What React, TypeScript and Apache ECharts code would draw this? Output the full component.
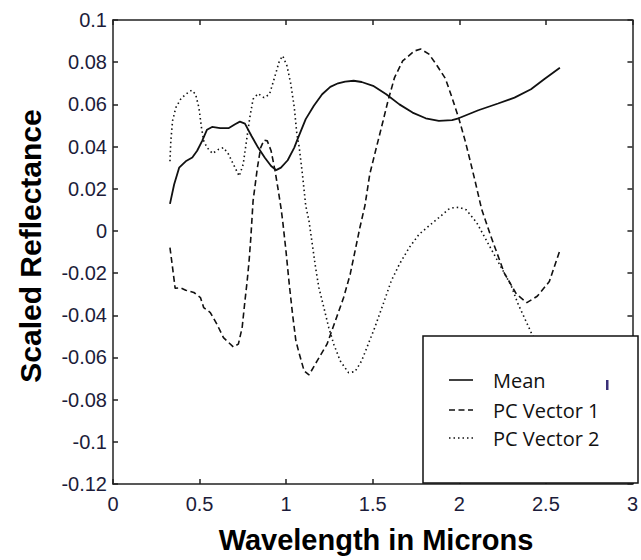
import React, { useEffect, useRef } from "react";
import * as echarts from "echarts";

const xTicks = [0, 0.5, 1, 1.5, 2, 2.5, 3];

const meanX = [0.329, 0.353, 0.382, 0.42, 0.458, 0.486, 0.515, 0.543, 0.572, 0.619, 0.667, 0.705, 0.733, 0.762, 0.8, 0.838, 0.876, 0.913, 0.942, 0.97, 1.009, 1.047, 1.066, 1.113, 1.16, 1.208, 1.255, 1.3, 1.341, 1.39, 1.436, 1.502, 1.578, 1.654, 1.73, 1.806, 1.882, 1.958, 1.996, 2.11, 2.224, 2.319, 2.414, 2.49, 2.581];
const meanY = [0.0128, 0.022, 0.03, 0.033, 0.0348, 0.038, 0.0427, 0.048, 0.0493, 0.0487, 0.0487, 0.0506, 0.0518, 0.0509, 0.045, 0.0395, 0.0348, 0.0308, 0.0288, 0.03, 0.0335, 0.0395, 0.0435, 0.053, 0.0593, 0.0648, 0.0683, 0.07, 0.0708, 0.0712, 0.0706, 0.0688, 0.0648, 0.06, 0.0561, 0.0534, 0.0522, 0.0525, 0.0534, 0.0572, 0.0604, 0.0632, 0.0672, 0.0719, 0.0774];

const pc1X = [0.329, 0.344, 0.359, 0.39, 0.42, 0.467, 0.505, 0.524, 0.562, 0.6, 0.638, 0.695, 0.724, 0.746, 0.762, 0.775, 0.786, 0.796, 0.809, 0.834, 0.853, 0.872, 0.891, 0.913, 0.936, 0.952, 0.97, 0.98, 0.999, 1.018, 1.037, 1.056, 1.075, 1.104, 1.132, 1.179, 1.236, 1.284, 1.332, 1.37, 1.398, 1.426, 1.455, 1.483, 1.521, 1.56, 1.588, 1.626, 1.673, 1.74, 1.778, 1.825, 1.873, 1.92, 1.958, 1.996, 2.034, 2.063, 2.091, 2.129, 2.18, 2.26, 2.33, 2.39, 2.45, 2.52, 2.58];
const pc1Y = [-0.0079, -0.0174, -0.0272, -0.027, -0.0281, -0.0292, -0.0316, -0.0364, -0.0387, -0.0442, -0.0506, -0.055, -0.0537, -0.0458, -0.0332, -0.0237, -0.0142, -0.0032, 0.0142, 0.03, 0.0395, 0.043, 0.0427, 0.038, 0.0285, 0.0205, 0.011, 0.0047, -0.0095, -0.0253, -0.0395, -0.052, -0.058, -0.0664, -0.0683, -0.0616, -0.0537, -0.0427, -0.0316, -0.0205, -0.0095, 0.0016, 0.012, 0.0269, 0.0395, 0.0522, 0.0616, 0.0727, 0.0806, 0.0853, 0.0862, 0.0838, 0.0782, 0.0722, 0.0632, 0.0537, 0.0427, 0.0332, 0.0237, 0.0103, -0.002, -0.02, -0.03, -0.034, -0.031, -0.024, -0.0095];

const pc2X = [0.329, 0.334, 0.344, 0.363, 0.391, 0.42, 0.454, 0.477, 0.496, 0.511, 0.524, 0.543, 0.575, 0.61, 0.638, 0.667, 0.695, 0.729, 0.752, 0.771, 0.79, 0.809, 0.838, 0.872, 0.904, 0.933, 0.961, 0.98, 1.005, 1.027, 1.047, 1.062, 1.075, 1.094, 1.113, 1.132, 1.151, 1.17, 1.189, 1.218, 1.246, 1.275, 1.312, 1.36, 1.398, 1.436, 1.474, 1.512, 1.56, 1.607, 1.654, 1.711, 1.768, 1.825, 1.882, 1.939, 1.967, 2.0, 2.04, 2.1, 2.2, 2.3, 2.336, 2.414, 2.5, 2.58];
const pc2Y = [0.033, 0.0427, 0.0522, 0.0585, 0.0625, 0.0648, 0.0667, 0.0648, 0.0585, 0.049, 0.0427, 0.0395, 0.0367, 0.0387, 0.0395, 0.0364, 0.0316, 0.026, 0.0316, 0.0427, 0.0537, 0.0625, 0.0651, 0.0632, 0.0648, 0.0727, 0.0806, 0.083, 0.0782, 0.0696, 0.0585, 0.0459, 0.04, 0.0269, 0.012, 0.0047, -0.0063, -0.0174, -0.0269, -0.0364, -0.0458, -0.0537, -0.0616, -0.0672, -0.0667, -0.0616, -0.0537, -0.0458, -0.0348, -0.0237, -0.0158, -0.0079, -0.0016, 0.0024, 0.0063, 0.0103, 0.011, 0.0112, 0.01, 0.004, -0.011, -0.026, -0.034, -0.048, -0.062, -0.075];

const legendNames = ["Mean", "PC Vector 1", "PC Vector 2"];

const LINE = "#111111";
const AXIS = "#222222";
const LABEL = "#1c1c3a";
const DASH = [6, 3.5];
const DOT = [1.5, 3];

export default function App() {
  const ref = useRef<HTMLDivElement>(null);

  useEffect(() => {
    if (!ref.current) return;
    const chart = echarts.init(ref.current, null, { renderer: "svg" });

    const axisCommon = {
      axisLine: { show: true, onZero: false, lineStyle: { color: AXIS, width: 1.5 } },
      axisTick: { show: true, inside: true, length: 5, lineStyle: { color: AXIS, width: 1.5 } },
      splitLine: { show: false },
    };
    const labelStyle = {
      fontFamily: '"Liberation Sans", Arial, sans-serif',
      fontSize: 20,
      color: LABEL,
    };

    const mk = (xs: number[], ys: number[]) => xs.map((x, i) => [x, ys[i]]);

    const legendY = [380, 410, 438];
    const legendTypes: any[] = ["solid", DASH, DOT];

    const graphic: any[] = [
      {
        type: "text",
        x: 30,
        y: 246,
        rotation: Math.PI / 2,
        style: {
          text: "Scaled Reflectance",
          font: 'bold 30px "Liberation Sans", Arial, sans-serif',
          fill: "#000",
          align: "center",
          verticalAlign: "middle",
        },
        z: 100,
      },
      {
        type: "text",
        x: 376,
        y: 540,
        style: {
          text: "Wavelength in Microns",
          font: 'bold 29px "Liberation Sans", Arial, sans-serif',
          fill: "#000",
          align: "center",
          verticalAlign: "middle",
        },
        z: 100,
      },
      {
        type: "rect",
        shape: { x: 423, y: 336, width: 215, height: 147 },
        style: { fill: "#ffffff", stroke: "#111", lineWidth: 1.5 },
        z: 100,
      },
      {
        type: "rect",
        shape: { x: 606, y: 380, width: 2.5, height: 10 },
        style: { fill: "#3a2f78" },
        z: 101,
      },
    ];
    legendNames.forEach((name, i) => {
      graphic.push({
        type: "line",
        shape: { x1: 449, y1: legendY[i], x2: 473, y2: legendY[i] },
        style: { stroke: LINE, lineWidth: 1.6, lineDash: i === 0 ? null : legendTypes[i] },
        z: 101,
      });
      graphic.push({
        type: "text",
        x: 493,
        y: legendY[i],
        style: {
          text: name,
          font: '20px "Open Sans", sans-serif',
          fill: "#111",
          align: "left",
          verticalAlign: "middle",
        },
        z: 101,
      });
    });

    chart.setOption({
      animation: false,
      backgroundColor: "#ffffff",
      grid: { left: 113, top: 20, right: 1.5, bottom: 76, containLabel: false },
      xAxis: [
        {
          type: "value",
          position: "bottom",
          min: 0,
          max: 3,
          interval: 0.5,
          ...axisCommon,
          axisLabel: {
            ...labelStyle,
            margin: 10,
            showMinLabel: true,
            showMaxLabel: true,
            formatter: (v: number) => (xTicks.includes(v) ? String(v) : String(v)),
          },
        },
        {
          type: "value",
          position: "top",
          min: 0,
          max: 3,
          interval: 0.5,
          ...axisCommon,
          axisLabel: { show: false },
        },
      ],
      yAxis: [
        {
          type: "value",
          position: "left",
          min: -0.12,
          max: 0.1,
          interval: 0.02,
          ...axisCommon,
          axisLabel: {
            ...labelStyle,
            margin: 6,
            showMinLabel: true,
            showMaxLabel: true,
            formatter: (v: number) => String(parseFloat(v.toFixed(2))),
          },
        },
        {
          type: "value",
          position: "right",
          min: -0.12,
          max: 0.1,
          interval: 0.02,
          ...axisCommon,
          axisLabel: { show: false },
        },
      ],
      series: [
        {
          name: legendNames[0],
          type: "line",
          data: mk(meanX, meanY),
          showSymbol: false,
          symbol: "none",
          smooth: false,
          lineStyle: { color: LINE, width: 1.8, type: "solid" },
          z: 3,
        },
        {
          name: legendNames[1],
          type: "line",
          data: mk(pc1X, pc1Y),
          showSymbol: false,
          symbol: "none",
          lineStyle: { color: LINE, width: 1.6, type: DASH },
          z: 3,
        },
        {
          name: legendNames[2],
          type: "line",
          data: mk(pc2X, pc2Y),
          showSymbol: false,
          symbol: "none",
          lineStyle: { color: LINE, width: 1.6, type: DOT },
          z: 3,
        },
      ],
      graphic,
    });

    return () => chart.dispose();
  }, []);

  return (
    <div
      ref={ref}
      style={{ position: "absolute", left: 0, top: 0, width: 641, height: 560, background: "#fff" }}
    />
  );
}
